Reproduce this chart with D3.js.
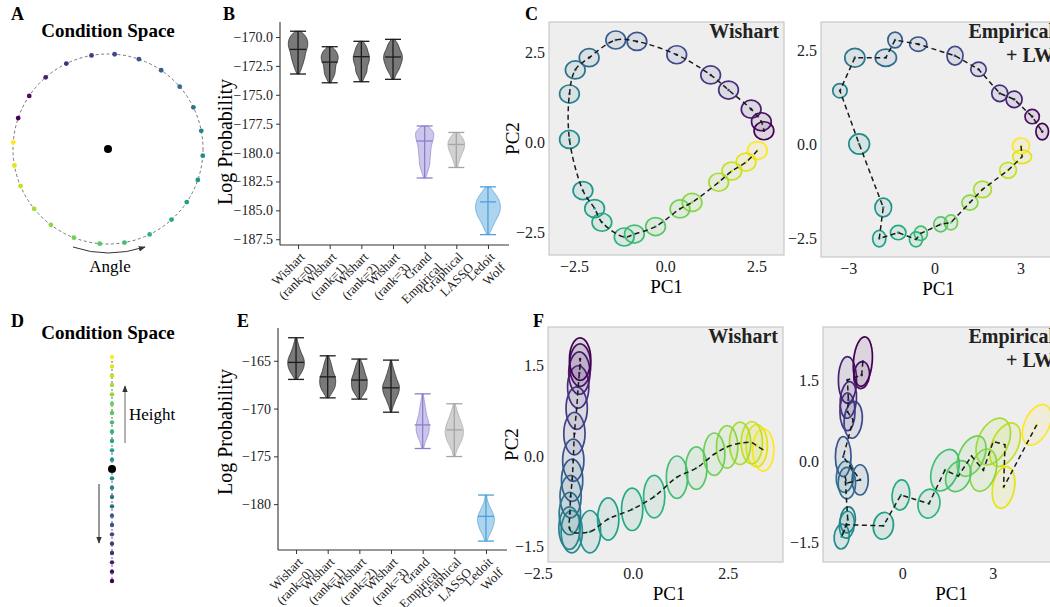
<!DOCTYPE html>
<html>
<head>
<meta charset="utf-8">
<script src="https://cdn.jsdelivr.net/npm/d3@7"></script>
<style>
body { margin: 0; background: #fff; }
svg, svg text { font-family: "Liberation Serif", "Times New Roman", serif; }
</style>
</head>
<body>
<svg id="fig" width="1050" height="607" font-family="Liberation Serif, serif"></svg>
<script>
// ---------- data ----------

// A: condition angles (deg) for the 24 conditions, D: heights
const anglesA = [176, 190, 203, 219, 233, 249, 265, 280, 296, 312, 326, 341, 356, 11, 26, 41, 56, 71, 86, 100, 116, 131, 146, 161];
const heightsD = [12, 11, 10, 9, 8, 7, 6, 5, 4, 3, 2, 1, -1, -2, -3, -4, -5, -6, -7, -8, -9, -10, -11, -12];

// B / E: violin summaries
const methods = ["Wishart (rank=0)", "Wishart (rank=1)", "Wishart (rank=2)", "Wishart (rank=3)", "Grand Empirical", "Graphical LASSO", "Ledoit Wolf"];
const methodLines = [["Wishart", "(rank=0)"], ["Wishart", "(rank=1)"], ["Wishart", "(rank=2)"], ["Wishart", "(rank=3)"], ["Grand", "Empirical"], ["Graphical", "LASSO"], ["Ledoit", "Wolf"]];

const circMin = [-173.2, -173.96, -173.87, -173.66, -182.2, -181.29, -187.1];
const circMax = [-169.5, -170.84, -170.37, -170.2, -177.7, -178.26, -182.97];
const circMean = [-171.07, -172.17, -171.7, -171.73, -179.0, -179.3, -184.27];
// relative half widths, bottom (min) to top (max)
const circShape = [
  [0.1, 0.3, 0.47, 0.6, 0.7, 0.85, 0.88, 0.7, 0.25],
  [0.1, 0.3, 0.47, 0.52, 0.58, 0.74, 0.76, 0.58, 0.2],
  [0.1, 0.3, 0.5, 0.55, 0.7, 0.73, 0.6, 0.45, 0.15],
  [0.1, 0.3, 0.55, 0.72, 0.85, 0.82, 0.62, 0.45, 0.15],
  [0.1, 0.28, 0.45, 0.5, 0.55, 0.62, 0.78, 0.8, 0.3],
  [0.1, 0.22, 0.34, 0.5, 0.67, 0.76, 0.72, 0.5, 0.17],
  [0.1, 0.35, 0.6, 0.9, 1.1, 1.12, 0.95, 0.6, 0.2]
];
const circTicks = [-170, -172.5, -175, -177.5, -180, -182.5, -185, -187.5];

const lineMin = [-166.95, -168.88, -169.01, -170.38, -174.18, -175.02, -183.87];
const lineMax = [-162.59, -164.48, -164.82, -164.93, -168.46, -169.5, -179.05];
const lineMean = [-165.17, -166.68, -167.02, -167.83, -171.71, -172.23, -181.28];
const lineShape = [
  [0.1, 0.4, 0.65, 0.76, 0.7, 0.5, 0.32, 0.18, 0.08],
  [0.1, 0.4, 0.65, 0.73, 0.68, 0.5, 0.38, 0.25, 0.08],
  [0.1, 0.4, 0.65, 0.71, 0.7, 0.55, 0.42, 0.28, 0.08],
  [0.05, 0.22, 0.45, 0.7, 0.76, 0.55, 0.35, 0.18, 0.05],
  [0.08, 0.25, 0.5, 0.6, 0.52, 0.35, 0.25, 0.15, 0.06],
  [0.08, 0.25, 0.55, 0.78, 0.83, 0.68, 0.45, 0.25, 0.08],
  [0.08, 0.3, 0.55, 0.72, 0.76, 0.6, 0.35, 0.15, 0.06]
];
const lineTicks = [-165, -170, -175, -180];

// C: PCA of circle conditions (index 0 = yellow ... 23 = purple)
const circWishX = [2.51, 2.20, 1.81, 1.45, 0.72, 0.39, -0.28, -0.86, -1.14, -1.75, -1.95, -2.27, -2.64, -2.64, -2.48, -2.10, -1.37, -0.79, 0.30, 1.23, 1.72, 2.34, 2.62, 2.69];
const circWishY = [-0.22, -0.54, -0.79, -1.10, -1.66, -1.84, -2.33, -2.54, -2.62, -2.21, -1.83, -1.33, 0.09, 1.35, 2.02, 2.36, 2.85, 2.81, 2.44, 1.88, 1.46, 0.93, 0.58, 0.33];
const circEmpX = [3.00, 3.04, 2.55, 1.66, 1.22, 0.56, 0.20, -0.49, -0.66, -1.28, -1.94, -1.80, -2.64, -3.31, -2.79, -1.71, -1.39, -0.58, 0.70, 1.52, 2.26, 2.76, 3.39, 3.74];
const circEmpY = [-0.04, -0.33, -0.69, -1.20, -1.55, -2.08, -2.13, -2.37, -2.53, -2.35, -2.51, -1.68, 0.01, 1.43, 2.31, 2.31, 2.78, 2.67, 2.36, 2.00, 1.36, 1.20, 0.74, 0.34];
const circEmpRx = [0.30, 0.33, 0.29, 0.31, 0.28, 0.23, 0.24, 0.23, 0.23, 0.27, 0.23, 0.29, 0.36, 0.25, 0.35, 0.37, 0.25, 0.30, 0.28, 0.27, 0.28, 0.28, 0.25, 0.22];
const circEmpRy = [0.21, 0.18, 0.21, 0.22, 0.20, 0.20, 0.20, 0.19, 0.20, 0.19, 0.22, 0.25, 0.27, 0.19, 0.25, 0.23, 0.21, 0.19, 0.25, 0.19, 0.22, 0.22, 0.19, 0.22];

// F: PCA of line conditions
const lineWishX = [3.42, 3.25, 3.12, 2.81, 2.47, 2.13, 1.66, 1.15, 0.55, -0.03, -0.66, -1.14, -1.62, -1.68, -1.67, -1.65, -1.61, -1.58, -1.55, -1.49, -1.45, -1.42, -1.40, -1.40];
const lineWishY = [0.10, 0.17, 0.22, 0.21, 0.15, 0.03, -0.20, -0.35, -0.67, -0.88, -1.04, -1.25, -1.25, -1.19, -0.95, -0.67, -0.40, -0.07, 0.37, 0.79, 1.14, 1.37, 1.50, 1.60];
const lineEmpX = [4.44, 3.34, 3.39, 3.00, 2.67, 2.28, 1.84, 1.40, 0.87, -0.06, -0.64, -1.85, -2.02, -1.82, -1.91, -1.85, -1.41, -1.97, -1.64, -1.83, -1.80, -1.83, -1.36, -1.32];
const lineEmpY = [0.67, -0.49, 0.30, 0.36, -0.17, 0.09, -0.28, -0.17, -0.79, -0.63, -1.20, -1.18, -1.40, -1.09, -0.29, -0.41, -0.35, 0.08, 0.76, 0.91, 1.13, 1.50, 1.59, 1.84];
const lineEmpRx = [0.41, 0.36, 0.43, 0.50, 0.42, 0.41, 0.39, 0.43, 0.36, 0.29, 0.33, 0.25, 0.25, 0.25, 0.29, 0.29, 0.27, 0.26, 0.30, 0.25, 0.27, 0.30, 0.26, 0.31];
const lineEmpRy = [0.40, 0.39, 0.43, 0.46, 0.40, 0.40, 0.30, 0.40, 0.27, 0.28, 0.25, 0.25, 0.23, 0.24, 0.29, 0.29, 0.28, 0.37, 0.34, 0.35, 0.34, 0.43, 0.25, 0.46];
const lineEmpTilt = [25, 10, 25, 25, 15, 25, 25, 20, 10, 5, 10, 5, 5, 5, 5, 0, 0, 0, 5, 0, 5, 0, 5, 5];

// ---------- styles ----------
const violinFill = ["#404040", "#404040", "#404040", "#404040", "#8d80d0", "#9a9a9a", "#4a9fdc"];
const violinLine = ["#1c1c1c", "#1c1c1c", "#1c1c1c", "#1c1c1c", "#8a80cc", "#a5a5a5", "#4f9fd8"];
const violinOpacity = [0.7, 0.7, 0.7, 0.7, 0.45, 0.45, 0.45];
const col = i => d3.interpolateViridis(1 - i / 23);
const SERIF = "Liberation Serif, serif";

const svg = d3.select("#fig");
const defs = svg.append("defs");
defs.append("marker").attr("id", "arr").attr("viewBox", "0 0 10 10")
  .attr("refX", 9).attr("refY", 5).attr("markerWidth", 7).attr("markerHeight", 7)
  .attr("orient", "auto-start-reverse")
  .append("path").attr("d", "M0,1 L10,5 L0,9 z").attr("fill", "#333");

function letter(t, x, y) {
  svg.append("text").attr("x", x).attr("y", y).attr("font-weight", "bold")
    .attr("font-size", 18).text(t);
}

// ---------- A: circle condition space ----------
letter("A", 11, 20);
svg.append("text").attr("x", 108).attr("y", 37).attr("text-anchor", "middle")
  .attr("font-weight", "bold").attr("font-size", 19).text("Condition Space");
const ax = d3.scaleLinear().domain([-1, 1]).range([13, 203]);
const ay = d3.scaleLinear().domain([-1, 1]).range([244, 54]);
svg.append("circle").attr("cx", ax(0)).attr("cy", ay(0)).attr("r", ax(1) - ax(0))
  .attr("fill", "none").attr("stroke", "#666").attr("stroke-width", 0.9).attr("stroke-dasharray", "3,2.5");
svg.append("circle").attr("cx", ax(0)).attr("cy", ay(0)).attr("r", 4).attr("fill", "#000");
svg.selectAll(".ptA").data(anglesA).join("circle")
  .attr("cx", d => ax(Math.cos(d * Math.PI / 180)))
  .attr("cy", d => ay(Math.sin(d * Math.PI / 180)))
  .attr("r", 2.4).attr("fill", (d, i) => col(i));
svg.append("path").attr("d", "M73,247 Q108,259 145,247").attr("fill", "none")
  .attr("stroke", "#333").attr("stroke-width", 1).attr("marker-end", "url(#arr)");
svg.append("text").attr("x", 110).attr("y", 272).attr("text-anchor", "middle")
  .attr("font-size", 17).text("Angle");

// ---------- D: line condition space ----------
letter("D", 11, 327);
svg.append("text").attr("x", 108).attr("y", 339).attr("text-anchor", "middle")
  .attr("font-weight", "bold").attr("font-size", 19).text("Condition Space");
const dy = d3.scaleLinear().domain([-12, 12]).range([581, 357]);
svg.append("line").attr("x1", 112).attr("x2", 112).attr("y1", dy(12)).attr("y2", dy(-12))
  .attr("stroke", "#555").attr("stroke-width", 0.9).attr("stroke-dasharray", "2,2");
svg.append("circle").attr("cx", 112).attr("cy", dy(0)).attr("r", 4).attr("fill", "#000");
svg.selectAll(".ptD").data(heightsD).join("circle")
  .attr("cx", 112).attr("cy", d => dy(d)).attr("r", 2.2).attr("fill", (d, i) => col(i));
svg.append("line").attr("x1", 125).attr("x2", 125).attr("y1", 443).attr("y2", 386)
  .attr("stroke", "#666").attr("stroke-width", 1).attr("marker-end", "url(#arr)");
svg.append("line").attr("x1", 99).attr("x2", 99).attr("y1", 484).attr("y2", 543)
  .attr("stroke", "#333").attr("stroke-width", 1).attr("marker-end", "url(#arr)");
svg.append("text").attr("x", 129).attr("y", 420).attr("font-size", 17).text("Height");

// ---------- B / E: violins ----------
function violinPanel(o) {
  const g = svg.append("g");
  const x = d3.scalePoint().domain(methods).range([o.x0, o.x1]).padding(0.57);
  const y = d3.scaleLinear().domain(o.domain).range([o.y1, o.y0]);
  const w = d3.scaleLinear().domain([0, 1]).range([0, 11]);

  const yAxis = d3.axisLeft(y).tickValues(o.ticks).tickSize(4).tickPadding(3)
    .tickFormat(d => d3.format(o.fmt)(d).replace("-", "\u2212"));
  const ya = g.append("g").attr("transform", `translate(${o.x0},0)`).call(yAxis);
  const xa = g.append("g").attr("transform", `translate(0,${o.y1})`)
    .call(d3.axisBottom(x).tickSize(4).tickFormat(""));
  [ya, xa].forEach(a => {
    a.attr("font-family", SERIF);
    a.select(".domain").attr("stroke", "#333").attr("stroke-width", 1.1);
    a.selectAll(".tick line").attr("stroke", "#333");
    a.selectAll("text").attr("font-size", 14).attr("fill", "#222");
  });
  xa.select(".domain").attr("d", `M${o.x0},0H${o.x1 + 3}`);
  ya.select(".domain").attr("d", `M0,${o.y1}V${o.y0}`);

  methods.forEach((m, i) => {
    const lo = o.mins[i], hi = o.maxs[i], cx = x(m);
    const pts = o.shapes[i].map((s, k) => ({ v: lo + (hi - lo) * k / (o.shapes[i].length - 1), s }));
    const area = d3.area().curve(d3.curveCatmullRom)
      .y(d => y(d.v)).x0(d => cx - w(d.s)).x1(d => cx + w(d.s));
    g.append("path").attr("d", area(pts)).attr("fill", violinFill[i])
      .attr("fill-opacity", violinOpacity[i]).attr("stroke", violinLine[i])
      .attr("stroke-opacity", 0.8).attr("stroke-width", 0.8);
    const ln = violinLine[i];
    g.append("line").attr("x1", cx).attr("x2", cx).attr("y1", y(lo)).attr("y2", y(hi))
      .attr("stroke", ln).attr("stroke-width", 1.3);
    [lo, hi, o.means[i]].forEach(v => {
      g.append("line").attr("x1", cx - 8).attr("x2", cx + 8).attr("y1", y(v)).attr("y2", y(v))
        .attr("stroke", ln).attr("stroke-width", 1.3);
    });
    const t = g.append("text").attr("transform", `translate(${cx + 1},${o.y1 + 6}) rotate(-45)`)
      .attr("text-anchor", "end").attr("font-size", 13).attr("fill", "#222");
    methodLines[i].forEach((s, k) => {
      t.append("tspan").attr("x", 0).attr("dy", k === 0 ? "0.72em" : "1.15em").text(s);
    });
  });

  g.append("text").attr("transform", `translate(${o.labX},${o.labY}) rotate(-90)`)
    .attr("text-anchor", "middle").attr("font-size", 20).text("Log Probability");
}

letter("B", 223, 20);
violinPanel({ x0: 280, x1: 506, y0: 22, y1: 245, domain: [-188.0, -168.7], ticks: circTicks, fmt: ".1f",
  mins: circMin, maxs: circMax, means: circMean, shapes: circShape, labX: 232, labY: 142 });
letter("E", 237, 327);
violinPanel({ x0: 278, x1: 504, y0: 328, y1: 550, domain: [-184.8, -161.57], ticks: lineTicks, fmt: "d",
  mins: lineMin, maxs: lineMax, means: lineMean, shapes: lineShape, labX: 232, labY: 432 });

// ---------- C / F: PCA panels ----------
function pcaPanel(o) {
  const g = svg.append("g");
  const x = d3.scaleLinear().domain(o.xd).range([o.x0, o.x1]);
  const y = d3.scaleLinear().domain(o.yd).range([o.y1, o.y0]);
  g.append("rect").attr("x", o.x0).attr("y", o.y0).attr("width", o.x1 - o.x0).attr("height", o.y1 - o.y0)
    .attr("fill", "#eeeeee").attr("stroke", "#c8c8c8").attr("stroke-width", 1.2);

  const fmt = f => d => d3.format(f)(d).replace("-", "\u2212");
  o.xt.forEach(v => g.append("text").attr("x", x(v)).attr("y", o.y1 + 17).attr("text-anchor", "middle")
    .attr("font-size", 16).attr("fill", "#222").text(fmt(o.xf)(v)));
  o.yt.forEach(v => g.append("text").attr("x", o.x0 - 4).attr("y", y(v)).attr("dy", "0.35em")
    .attr("text-anchor", "end").attr("font-size", 16).attr("fill", "#222").text(fmt(o.yf)(v)));

  const pts = o.px.map((v, i) => ({ i, x: v, y: o.py[i],
    rx: o.rx ? o.rx[i] : o.rx0, ry: o.ry ? o.ry[i] : o.ry0, t: o.tilt ? o.tilt[i] : 0 }));

  g.selectAll(".ell").data(pts).join("ellipse")
    .attr("transform", d => `translate(${x(d.x)},${y(d.y)}) rotate(${d.t})`)
    .attr("rx", d => x(d.rx) - x(0)).attr("ry", d => y(0) - y(d.ry))
    .attr("fill", d => col(d.i)).attr("fill-opacity", 0.1)
    .attr("stroke", d => col(d.i)).attr("stroke-width", 1.7);
  g.selectAll(".ctr").data(pts).join("circle")
    .attr("cx", d => x(d.x)).attr("cy", d => y(d.y)).attr("r", 1.3).attr("fill", d => col(d.i));
  const line = d3.line().curve(o.curve).x(d => x(d.x)).y(d => y(d.y));
  g.append("path").attr("d", line(pts)).attr("fill", "none").attr("stroke", "#1a1a1a")
    .attr("stroke-width", 1.5).attr("stroke-dasharray", "5,3.5");

  o.title.forEach((s, k) => g.append("text").attr("x", o.titleX).attr("y", o.y0 + 16 + k * 24)
    .attr("text-anchor", "end").attr("font-weight", "bold").attr("font-size", 20).attr("fill", "#222").text(s));
  g.append("text").attr("x", (o.x0 + o.x1p) / 2).attr("y", o.y1 + 38).attr("text-anchor", "middle")
    .attr("font-size", 19).text("PC1");
  if (o.pc2) {
    g.append("text").attr("transform", `translate(${o.x0 - 30},${(o.y0 + o.y1) / 2}) rotate(-90)`)
      .attr("text-anchor", "middle").attr("font-size", 19).text("PC2");
  }
}

letter("C", 525, 20);
pcaPanel({ x0: 549, x1: 784, x1p: 784, y0: 22, y1: 255, xd: [-3.2, 3.24], yd: [-3.12, 3.35],
  xt: [-2.5, 0, 2.5], yt: [-2.5, 0, 2.5], xf: ".1f", yf: ".1f",
  px: circWishX, py: circWishY, rx0: 0.27, ry0: 0.25, curve: d3.curveCatmullRom,
  title: ["Wishart"], titleX: 779, pc2: true });
pcaPanel({ x0: 821, x1: 1058, x1p: 1056, y0: 22, y1: 257, xd: [-3.97, 4.29], yd: [-3.0, 3.26],
  xt: [-3, 0, 3], yt: [-2.5, 0, 2.5], xf: "d", yf: ".1f",
  px: circEmpX, py: circEmpY, rx: circEmpRx, ry: circEmpRy, curve: d3.curveLinear,
  title: ["Empirical", "+ LW"], titleX: 1054, pc2: false });

letter("F", 533, 327);
pcaPanel({ x0: 548, x1: 783, x1p: 790, y0: 327, y1: 562, xd: [-2.245, 3.94], yd: [-1.75, 2.13],
  xt: [-2.5, 0, 2.5], yt: [-1.5, 0, 1.5], xf: ".1f", yf: ".1f",
  px: lineWishX, py: lineWishY, rx0: 0.28, ry0: 0.35, curve: d3.curveCatmullRom,
  title: ["Wishart"], titleX: 778, pc2: true });
pcaPanel({ x0: 823, x1: 1060, x1p: 1080, y0: 327, y1: 562, xd: [-2.64, 5.21], yd: [-1.87, 2.48],
  xt: [0, 3], yt: [-1.5, 0, 1.5], xf: "d", yf: ".1f",
  px: lineEmpX, py: lineEmpY, rx: lineEmpRx, ry: lineEmpRy, tilt: lineEmpTilt, curve: d3.curveLinear,
  title: ["Empirical", "+ LW"], titleX: 1054, pc2: false });
</script>
</body>
</html>
